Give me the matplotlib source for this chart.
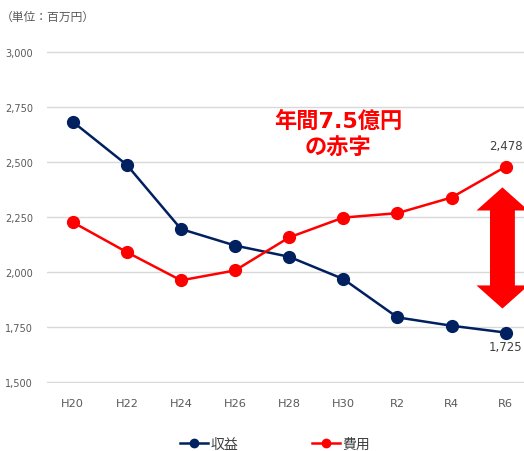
import matplotlib
matplotlib.use("Agg")
import matplotlib.pyplot as plt
from matplotlib.patches import Polygon
from matplotlib.lines import Line2D

plt.rcParams['font.family'] = ['DejaVu Sans', 'Noto Sans CJK JP']

categories = ["H20", "H22", "H24", "H26", "H28", "H30", "R2", "R4", "R6"]
revenue = [2682, 2486, 2195, 2120, 2069, 1968, 1794, 1756, 1725]
expense = [2226, 2090, 1962, 2007, 2157, 2247, 2267, 2338, 2478]
y_ticks = [1500, 1750, 2000, 2250, 2500, 2750, 3000]
rev_name = "収益"
exp_name = "費用"
unit_text = "（単位：百万円）"
note_text = "年間7.5億円\nの赤字"

NAVY = "#002060"
RED = "#FF0000"
GREY = "#595959"

fig = plt.figure(figsize=(5.24, 4.52), dpi=100)
ax = fig.add_axes([47/524, (452-383.8)/452, (531.4-47)/524, (383.8-52)/452])

x = list(range(len(categories)))
ax.plot(x, revenue, color=NAVY, lw=1.8, marker='o', ms=8.5, mec=NAVY, mfc=NAVY, zorder=3, clip_on=False)
ax.plot(x, expense, color=RED, lw=1.8, marker='o', ms=8.5, mec=RED, mfc=RED, zorder=3, clip_on=False)

ax.set_xlim(-0.475, len(categories) - 1 + 0.475)
ax.set_ylim(y_ticks[0] - 3, y_ticks[-1] + 3)
ax.set_yticks(y_ticks)
ax.set_yticklabels([f"{v:,}" for v in y_ticks])
ax.set_xticks(x)
ax.set_xticklabels(categories)
ax.tick_params(axis='y', length=0, pad=10, labelsize=7, labelcolor=GREY)
ax.tick_params(axis='x', length=0, pad=11, labelsize=8.2, labelcolor=GREY)
ax.grid(axis='y', color="#d9d9d9", lw=1)
ax.set_axisbelow(True)
for s in ax.spines.values():
    s.set_visible(False)

# data labels for last points
ax.annotate(f"{expense[-1]:,}", (x[-1], expense[-1]), xytext=(0, 15), textcoords='offset points',
            ha='center', va='center', fontsize=8.5, color="#404040")
ax.annotate(f"{revenue[-1]:,}", (x[-1], revenue[-1]), xytext=(0, -10), textcoords='offset points',
            ha='center', va='center', fontsize=8.5, color="#404040")

# annotation text
ax.text(4.90, 2627, note_text, ha='center', va='center', fontsize=16, fontweight='bold',
        color=RED, linespacing=1.3, family=['DejaVu Sans', 'Noto Sans CJK JP'])

# double-headed arrow
cx, sw, hw = 7.94, 0.23, 0.48
top, bot, hl = 2384, 1834, 105
pts = [(cx, top), (cx + hw, top - hl), (cx + sw, top - hl), (cx + sw, bot + hl), (cx + hw, bot + hl),
       (cx, bot), (cx - hw, bot + hl), (cx - sw, bot + hl), (cx - sw, top - hl), (cx - hw, top - hl)]
ax.add_patch(Polygon(pts, closed=True, facecolor=RED, edgecolor='none', zorder=4))

fig.text(1/524, 1 - 17/452, unit_text, ha='left', va='center', fontsize=8.5, color=GREY,
         family=['Noto Sans CJK JP', 'DejaVu Sans'])

handles = [Line2D([], [], color=NAVY, lw=1.8, marker='o', ms=6),
           Line2D([], [], color=RED, lw=1.8, marker='o', ms=6)]
fig.legend(handles, [rev_name, exp_name], loc='center', bbox_to_anchor=(275/524, 1 - 445/452),
           ncol=2, frameon=False, handlelength=2.0, handletextpad=0.2,
           columnspacing=5.3, labelcolor="#404040", prop={'family': ['Noto Sans CJK JP'], 'size': 10})

fig.savefig("out.png", dpi=100)
